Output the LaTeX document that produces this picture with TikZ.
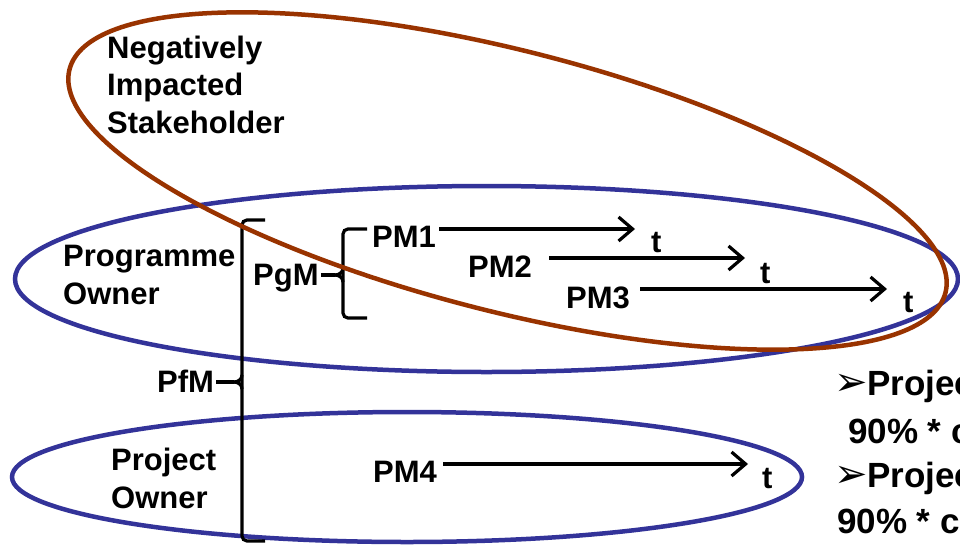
\documentclass[tikz,border=0pt]{standalone}
\usepackage{fontspec}
\setmainfont{Liberation Sans}
\newfontfamily\symfont{DejaVu Sans}
\usetikzlibrary{shapes.geometric,arrows.meta}
\definecolor{ownerblue}{HTML}{333399}
\definecolor{impactbrown}{HTML}{993300}
\begin{document}
\begin{tikzpicture}[x=1pt,y=-1pt,
  lbl/.style={font=\bfseries\fontsize{31}{37.5}\selectfont, inner sep=0, anchor=base west, align=left},
  note/.style={font=\bfseries\fontsize{35}{42}\selectfont, inner sep=0, anchor=base west},
  bullet/.style={font=\symfont\fontsize{40}{46}\selectfont, inner sep=0},
  owner/.style={draw=ownerblue, line width=4.5pt, ellipse, inner sep=0},
  impact/.style={draw=impactbrown, line width=4.5pt, ellipse, inner sep=0},
  arr/.style={line width=3.2pt, -{Straight Barb[length=14pt,width=24pt,line width=3.2pt]}},
  brace/.style={line width=3.2pt, rounded corners=5pt},
  tick/.style={line width=3.2pt}]
\useasboundingbox (0,0) rectangle (960,546);
\clip (0,0) rectangle (960,546);
\fill[white] (0,0) rectangle (960,546);

% owner ellipses
\node[owner, minimum width=943pt, minimum height=186pt] (progOwner) at (486.5,279) {};
\node[owner, minimum width=790pt, minimum height=130pt] (projOwner) at (407,477) {};

% labels (multi-line nodes sit on the baseline of their last line)
\node[lbl] (neg) at (107,133) {Negatively\\Impacted\\Stakeholder};
\node[lbl] (progLbl) at (63,304) {Programme\\Owner};
\node[lbl] (projLbl) at (111,508) {Project\\Owner};
\node[lbl] (pfm) at (157,392) {PfM};
\node[lbl] (pgm) at (253,285) {PgM};
\node[lbl] (pm1) at (372,247) {PM1};
\node[lbl] (pm2) at (468,277) {PM2};
\node[lbl] (pm3) at (566,308) {PM3};
\node[lbl] (pm4) at (373,482) {PM4};
\node[lbl] (t1) at (651,252) {t};
\node[lbl] (t2) at (760,283) {t};
\node[lbl] (t3) at (903,312) {t};
\node[lbl] (t4) at (762,488) {t};

% time arrows
\coordinate (e1) at (635,229);
\coordinate (e2) at (745,258);
\coordinate (e3) at (887,289);
\coordinate (e4) at (748,464);
\draw[arr] ([xshift=3pt]pm1.east |- e1) -- (e1);
\draw[arr] ([xshift=17pt]pm2.east |- e2) -- (e2);
\draw[arr] ([xshift=10pt]pm3.east |- e3) -- (e3);
\draw[arr] ([xshift=6pt]pm4.east |- e4) -- (e4);

% portfolio brace
\draw[brace] (265,220) -- (242,220) -- (242,541) -- (265,541);
\coordinate (pfmTip) at (234,382);
\draw[tick] ([xshift=2pt]pfm.east |- pfmTip) -- (pfmTip);
\draw[tick] (pfmTip) to[out=0,in=-90] (242,375);
\draw[tick] (pfmTip) to[out=0,in=90] (242,389);

% programme brace
\draw[brace] (367,229) -- (343,229) -- (343,318) -- (367,318);
\coordinate (pgmTip) at (335,275);
\draw[tick] ([xshift=2pt]pgm.east |- pgmTip) -- (pgmTip);
\draw[tick] (pgmTip) to[out=0,in=-90] (343,268);
\draw[tick] (pgmTip) to[out=0,in=90] (343,282);

% notes on the right
\node[bullet] (b1) at (851,385) {➢};
\node[note] (p1) at (867,395) {Projec};
\node[note] (c1) at (848,443) {90\% * c};
\node[bullet] (b2) at (851,477) {➢};
\node[note] (p2) at (867,487) {Projec};
\node[note] (c2) at (837,533) {90\% * c};

% negatively impacted stakeholder ellipse
\node[impact, minimum width=904pt, minimum height=261pt, rotate=-14.3] (impactEll) at (507.5,181) {};
\end{tikzpicture}
\end{document}
